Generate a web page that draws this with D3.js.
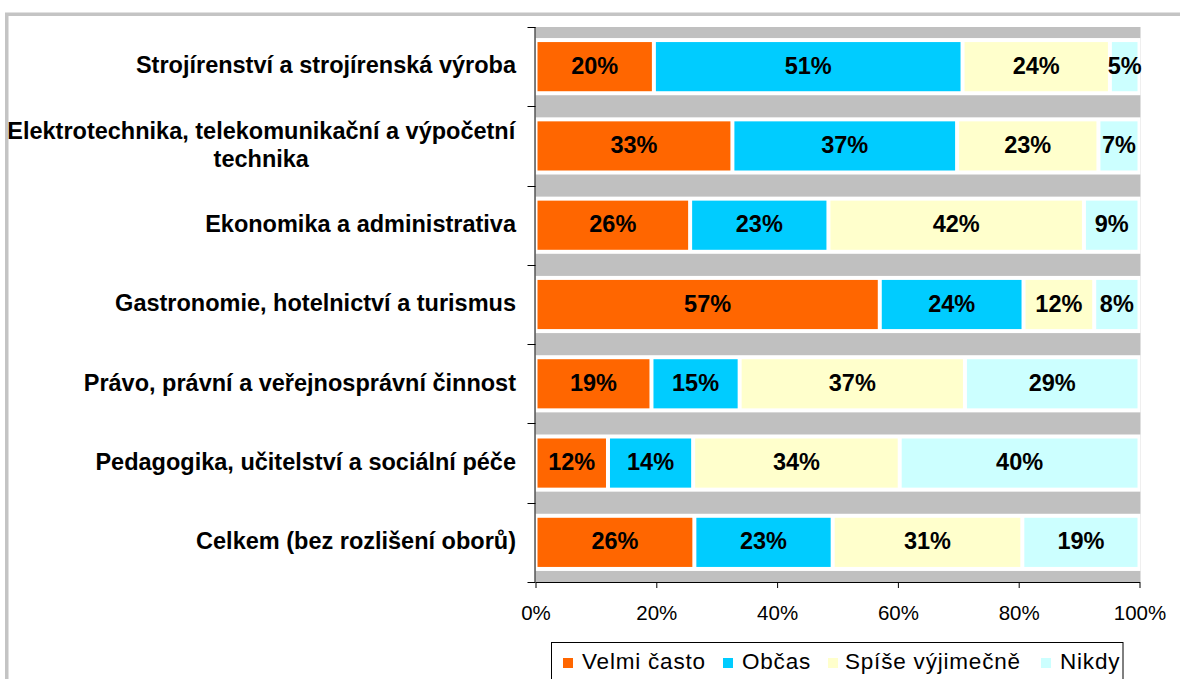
<!DOCTYPE html>
<html>
<head>
<meta charset="utf-8">
<script src="https://cdn.jsdelivr.net/npm/d3@7"></script>
<style>
  body { margin: 0; background: #fff; }
  svg { display: block; font-family: "Liberation Sans", Arial, sans-serif; }
</style>
</head>
<body>
<svg></svg>
<script>
// categories (top to bottom), each may wrap onto two lines
const categories = [
    ['Strojírenství a strojírenská výroba'],
    ['Elektrotechnika, telekomunikační a výpočetní', 'technika'],
    ['Ekonomika a administrativa'],
    ['Gastronomie, hotelnictví a turismus'],
    ['Právo, právní a veřejnosprávní činnost'],
    ['Pedagogika, učitelství a sociální péče'],
    ['Celkem (bez rozlišení oborů)']
];
// series names
const seriesNames = ['Velmi často', 'Občas', 'Spíše výjimečně', 'Nikdy'];
// values in % per series, same order as categories
const velmiCasto = [19.6, 32.6, 25.6, 57.0, 19.2, 12.0, 26.3];
const obcas      = [51.1, 37.2, 22.9, 23.8, 14.6, 14.1, 22.9];
const spiseVyjim = [24.4, 23.4, 42.3, 11.7, 37.3, 34.2, 31.4];
const nikdy      = [4.9,  6.8,  9.2,  7.5,  28.9, 39.7, 19.4];
const xTicks = [0, 20, 40, 60, 80, 100];

const colors = ['#ff6600', '#00ccff', '#ffffcc', '#ccffff'];

const size = {w: 1180, h: 679};
const plot = {l: 535.5, r: 1139.5, t: 27, b: 582};

const svg = d3.select('svg')
    .attr('width', size.w)
    .attr('height', size.h);

// outer frame of the chart
svg.append('rect')
    .attr('x', 6.75).attr('y', 14.25)
    .attr('width', 1300).attr('height', 800)
    .attr('fill', 'none')
    .attr('stroke', '#c4c4c4')
    .attr('stroke-width', 3.5);

// table of rows
const rows = categories.map((c, i) => ({
    key: i,
    lines: c,
    values: [velmiCasto[i], obcas[i], spiseVyjim[i], nikdy[i]]
}));

const x = d3.scaleLinear().domain([0, 100]).range([plot.l, plot.r]);
const y = d3.scaleBand()
    .domain(rows.map(d => d.key))
    .range([plot.t, plot.b]);

const barH = y.bandwidth() * 0.62;

// gray plot background
svg.append('rect')
    .attr('x', plot.l).attr('y', plot.t)
    .attr('width', plot.r - plot.l + 1).attr('height', plot.b - plot.t)
    .attr('fill', '#c0c0c0');

const stack = d3.stack().keys([0, 1, 2, 3]).value((d, k) => d.values[k]);
const stacked = stack(rows);

// white band behind each bar
svg.append('g')
    .selectAll('rect')
    .data(rows)
    .join('rect')
    .attr('x', plot.l)
    .attr('y', d => y(d.key) + (y.bandwidth() - barH) / 2 - 4)
    .attr('width', plot.r - plot.l + 1)
    .attr('height', barH + 8)
    .attr('fill', '#fff');

const seg = svg.append('g')
    .selectAll('g')
    .data(stacked)
    .join('g')
    .attr('fill', (d, i) => colors[i]);

seg.selectAll('rect')
    .data(d => d)
    .join('rect')
    .attr('x', d => x(d[0]) + 2)
    .attr('y', d => y(d.data.key) + (y.bandwidth() - barH) / 2)
    .attr('width', d => x(d[1]) - x(d[0]) - 4)
    .attr('height', barH);

// data labels
const lab = svg.append('g')
    .attr('font-size', 23.5)
    .attr('font-weight', 'bold')
    .attr('text-anchor', 'middle')
    .attr('fill', '#000');

stacked.forEach(s => {
    lab.selectAll(null)
        .data(s)
        .join('text')
        .attr('x', d => (x(d[0]) + x(d[1])) / 2)
        .attr('y', d => y(d.data.key) + y.bandwidth() / 2)
        .attr('dy', '0.3em')
        .text(d => Math.round(d[1] - d[0]) + '%');
});

// y axis line with ticks at band boundaries
const yAxis = svg.append('g').attr('stroke', '#000').attr('stroke-width', 1);
yAxis.append('line')
    .attr('x1', plot.l - 0.5).attr('x2', plot.l - 0.5)
    .attr('y1', plot.t).attr('y2', plot.b);
yAxis.selectAll('line.tick')
    .data(rows.map(d => y(d.key)).concat([plot.b]))
    .join('line')
    .attr('class', 'tick')
    .attr('x1', plot.l - 8).attr('x2', plot.l)
    .attr('y1', d => Math.round(d) + 0.5).attr('y2', d => Math.round(d) + 0.5);

// category labels
const catG = svg.append('g')
    .attr('font-size', 23.5)
    .attr('font-weight', 'bold')
    .attr('fill', '#000');

rows.forEach(r => {
    const cy = y(r.key) + y.bandwidth() / 2;
    const lineH = 28;
    const t = catG.append('text')
        .attr('y', cy - (r.lines.length - 1) * lineH / 2 - 1);
    if (r.lines.length === 1) {
        t.attr('x', 516).attr('dy', '0.33em').attr('text-anchor', 'end').text(r.lines[0]);
    } else {
        // multi-line labels are centered as a block, right edge at axis
        t.attr('text-anchor', 'middle');
        r.lines.forEach((ln, j) => {
            t.append('tspan').attr('x', 0).attr('dy', j === 0 ? '0.33em' : lineH).text(ln);
        });
        const w = t.node().getBBox().width;
        t.selectAll('tspan').attr('x', 516 - w / 2);
    }
});

// x axis
const xAxis = svg.append('g')
    .attr('transform', 'translate(0,' + plot.b + ')')
    .call(d3.axisBottom(x).tickValues(xTicks).tickSize(6).tickSizeOuter(0).tickFormat(d => d + '%'));
xAxis.select('.domain').attr('stroke', '#000');
xAxis.selectAll('.tick line').attr('stroke', '#000');
xAxis.selectAll('.tick text')
    .attr('font-size', 20.5)
    .attr('font-family', '"Liberation Sans", Arial, sans-serif')
    .attr('fill', '#000')
    .attr('y', 23);

// legend
const leg = svg.append('g');
leg.append('rect')
    .attr('x', 551.5).attr('y', 642.5)
    .attr('width', 571.5).attr('height', 60)
    .attr('fill', '#fff').attr('stroke', '#000');

const legX = [563, 723, 828, 1041];
const items = leg.selectAll('g')
    .data(seriesNames)
    .join('g')
    .attr('transform', (d, i) => 'translate(' + legX[i] + ',669)');
items.append('rect')
    .attr('x', 0).attr('y', -11)
    .attr('width', 10).attr('height', 10)
    .attr('fill', (d, i) => colors[i]);
items.append('text')
    .attr('x', (d, i) => i === 2 ? 17 : 19)
    .attr('font-size', 22.5)
    .attr('letter-spacing', 0.8)
    .attr('fill', '#000')
    .text(d => d);
</script>
</body>
</html>
